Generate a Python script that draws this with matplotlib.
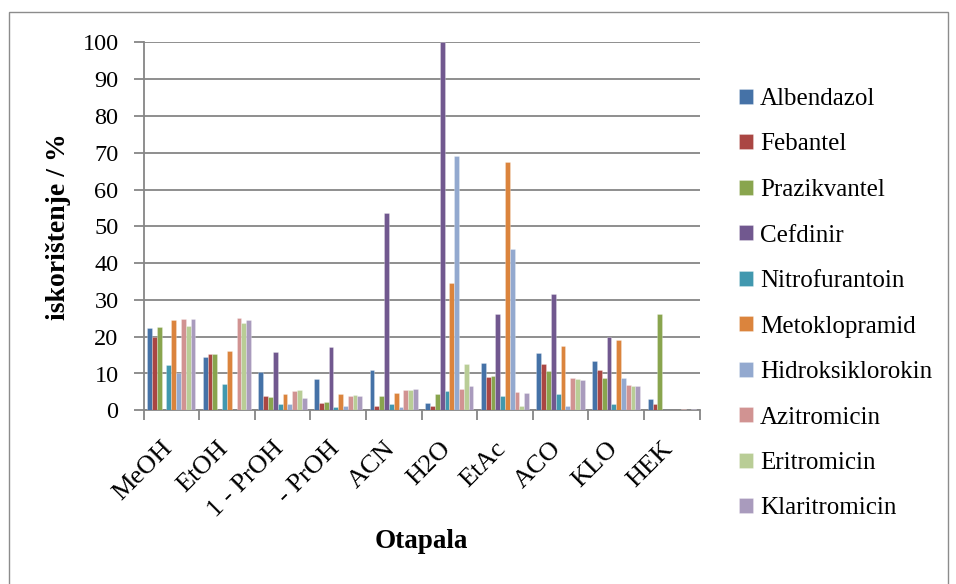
import matplotlib
matplotlib.use("Agg")
import matplotlib.pyplot as plt
import numpy as np
from matplotlib.patches import Rectangle

plt.rcParams['font.family'] = ['Liberation Serif', 'DejaVu Serif']

otapala = ["MeOH", "EtOH", "1 - PrOH", "- PrOH", "ACN", "H2O", "EtAc", "ACO", "KLO", "HEK"]

albendazol = [22.4, 14.5, 10.3, 8.5, 11.0, 1.9, 12.8, 15.5, 13.5, 3.2]
febantel = [20.0, 15.3, 4.0, 2.0, 1.1, 1.1, 9.1, 12.6, 11.0, 1.7]
prazikvantel = [22.6, 15.3, 3.6, 2.2, 3.8, 4.3, 9.2, 10.8, 8.8, 26.1]
cefdinir = [0, 0, 15.9, 17.2, 53.5, 100, 26.3, 31.7, 19.8, 0]
nitrofurantoin = [12.3, 7.2, 1.7, 1.0, 1.7, 5.2, 3.9, 4.4, 1.6, 0]
metoklopramid = [24.5, 16.2, 4.5, 4.5, 4.6, 34.6, 67.6, 17.6, 19.2, 0]
hidroksiklorokin = [10.0, 0, 1.6, 1.1, 0.9, 69.0, 43.9, 1.1, 8.7, 0]
azitromicin = [24.9, 25.0, 5.3, 3.9, 5.5, 5.8, 5.0, 8.7, 6.8, 0.4]
eritromicin = [23.0, 23.8, 5.5, 4.2, 5.5, 12.5, 1.3, 8.6, 6.5, 0]
klaritromicin = [24.8, 24.6, 3.3, 3.8, 5.8, 6.6, 4.8, 8.2, 6.6, 0.3]

serije = [
    ("Albendazol", albendazol, "#4572A7"),
    ("Febantel", febantel, "#AA4643"),
    ("Prazikvantel", prazikvantel, "#89A54E"),
    ("Cefdinir", cefdinir, "#71588F"),
    ("Nitrofurantoin", nitrofurantoin, "#4198AF"),
    ("Metoklopramid", metoklopramid, "#DB843D"),
    ("Hidroksiklorokin", hidroksiklorokin, "#93A9CF"),
    ("Azitromicin", azitromicin, "#D19392"),
    ("Eritromicin", eritromicin, "#B9CD96"),
    ("Klaritromicin", klaritromicin, "#A99BBD"),
]

W, H = 956, 584
fig = plt.figure(figsize=(W / 100, H / 100), dpi=100)
ax = fig.add_axes([143.5 / W, (H - 410.3) / H, (699.6 - 143.5) / W, (410.3 - 42.3) / H])

# outer chart frame
fig.patches.append(Rectangle((9 / W, -0.02), (948 - 9) / W, (H - 12) / H + 0.02,
                             transform=fig.transFigure, fill=False,
                             edgecolor="#8c8c8c", linewidth=1.0))

x = np.arange(len(otapala)) + 0.5
sirina = 0.0866
n = len(serije)
for i, (ime, vrijednosti, boja) in enumerate(serije):
    pomak = (i - (n - 1) / 2) * sirina
    ax.bar(x + pomak, vrijednosti, width=sirina, color=boja, label=ime,
           edgecolor=(1, 1, 1, 0.45), linewidth=0.4, zorder=3)

ax.set_xlim(0, len(otapala))
ax.set_ylim(0, 100)
ax.set_yticks(np.arange(0, 101, 10))
ax.yaxis.grid(True, color="#868686", linewidth=1.3, zorder=0)
ax.set_axisbelow(True)

ax.set_xticks(np.arange(0, len(otapala) + 1))
ax.set_xticklabels([])
ax.set_xticks(x - 0.04, minor=True)
ax.set_xticklabels(otapala, minor=True, rotation=45, ha="right", va="center",
                   rotation_mode="anchor", fontsize=19)
ax.tick_params(axis="x", which="minor", length=0, pad=25)
ax.tick_params(axis="x", which="major", length=7, width=1.3, color="#868686")
ax.tick_params(axis="y", length=7, width=1.3, color="#868686", labelsize=17.5, pad=11)

for s in ["top", "right"]:
    ax.spines[s].set_visible(False)
for s in ["left", "bottom"]:
    ax.spines[s].set_color("#868686")
    ax.spines[s].set_linewidth(1.3)

ax.set_ylabel("iskorištenje / %", fontsize=20, fontweight="bold", labelpad=8)
fig.text(421.5 / W, (H - 541) / H, "Otapala", fontsize=19.5, fontweight="bold",
         ha="center", va="center")

leg = fig.legend(loc="upper left", bbox_to_anchor=(729 / W, (H - 78) / H),
                 frameon=False, fontsize=18, handlelength=0.55, handleheight=0.55,
                 handletextpad=0.3, labelspacing=0.94, borderaxespad=0)

fig.savefig("out.png", dpi=100)
